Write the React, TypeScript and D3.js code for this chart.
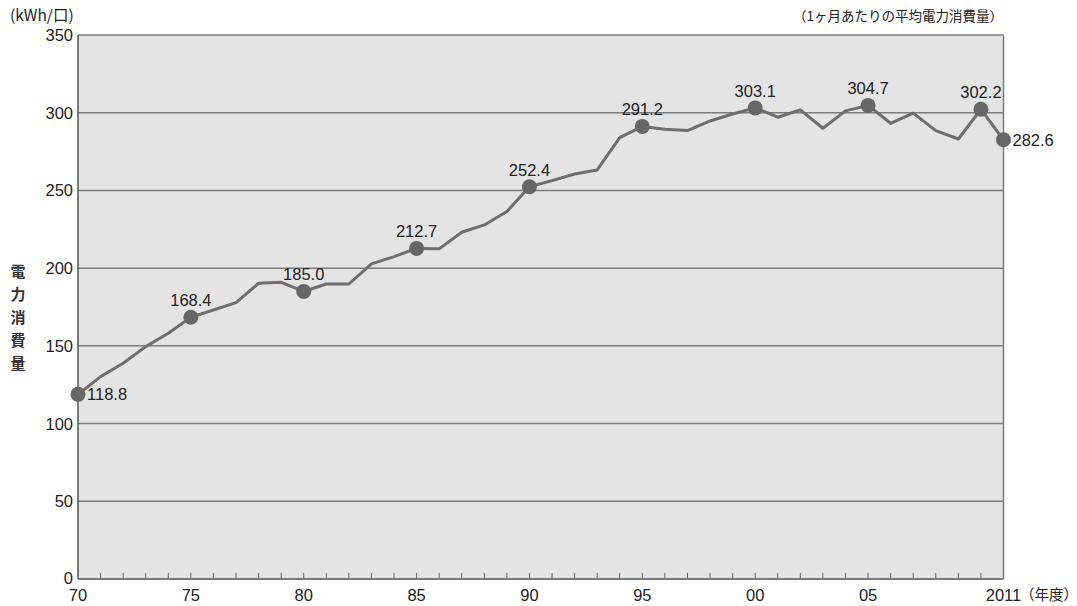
import React from "react";
import * as d3 from "d3";

// Household electricity use per contract per month, fiscal years 1970–2011
const years: number[] = d3.range(1970, 2012);
const consumption: number[] = [
  118.8, 130.2, 138.8, 149.5, 158.1, 168.4, 173.1, 177.8, 190.3, 190.9,
  185.0, 189.8, 189.8, 202.7, 207.4, 212.7, 212.4, 223.1, 227.8, 236.4,
  252.4, 256.3, 260.6, 263.2, 284.0, 291.2, 289.4, 288.5, 294.7, 299.2,
  303.1, 297.1, 301.8, 290.0, 301.2, 304.7, 293.2, 299.7, 288.5, 283.1,
  302.2, 282.6,
];
// Years whose value is marked with a dot and a label
const markedYears: number[] = [1970, 1975, 1980, 1985, 1990, 1995, 2000, 2005, 2010, 2011];
const yTicks: number[] = [0, 50, 100, 150, 200, 250, 300, 350];
const xLabelYears: number[] = [1970, 1975, 1980, 1985, 1990, 1995, 2000, 2005];
const xLabels: string[] = ["70", "75", "80", "85", "90", "95", "00", "05"];
const yTitle: string[] = ["電", "力", "消", "費", "量"];

const W = 1077;
const H = 606;
const left = 78;
const right = 1003.5;
const top = 35;
const bottom = 579;

export default function App() {
  const x = d3.scaleLinear().domain([1970, 2011]).range([left, right]);
  const y = d3.scaleLinear().domain([0, 350]).range([bottom, top]);
  const line = d3
    .line<number>()
    .x((_, i) => x(years[i]))
    .y((d) => y(d));

  const font = "'Liberation Sans', Arial, Helvetica, sans-serif";
  const cjk = "'Noto Sans CJK JP', sans-serif";

  return (
    <svg
      width={W}
      height={H}
      style={{ position: "absolute", left: 0, top: 0, background: "#fff" }}
    >
      <rect x={left} y={top} width={right - left} height={bottom - top} fill="#e4e4e4" />
      {yTicks.slice(1).map((t) => (
        <line key={t} x1={left} x2={right} y1={y(t)} y2={y(t)} stroke="#7c7c7c" strokeWidth={1.5} />
      ))}
      <line x1={right} x2={right} y1={top} y2={bottom} stroke="#7c7c7c" strokeWidth={1.5} />
      <line x1={left} x2={left} y1={top} y2={bottom} stroke="#555" strokeWidth={1.5} />
      <line x1={left} x2={right} y1={bottom} y2={bottom} stroke="#555" strokeWidth={1.5} />
      {years.slice(1, -1).map((yr) => (
        <line key={yr} x1={x(yr)} x2={x(yr)} y1={bottom} y2={bottom - 6} stroke="#666" strokeWidth={1} />
      ))}

      {yTicks.map((t) => (
        <text key={t} x={73} y={t === 0 ? y(t) - 1 : y(t)} dy="0.36em" textAnchor="end" fontFamily={font} fontSize={16.5} fill="#222">
          {t}
        </text>
      ))}
      {xLabelYears.map((yr, i) => (
        <text key={yr} x={x(yr)} y={601} textAnchor="middle" fontFamily={font} fontSize={16.5} fill="#222">
          {xLabels[i]}
        </text>
      ))}
      <text x={x(2011)} y={601} textAnchor="middle" fontFamily={font} fontSize={16.5} fill="#222">
        2011
      </text>
      <text x={1020} y={600} fontFamily={cjk} fontSize={14.5} fill="#222">
        （年度）
      </text>

      <text x={10} y={21} fontFamily={cjk} fontSize={15.5} fill="#222">
        (kWh/口)
      </text>
      <text x={1003} y={21} textAnchor="end" fontFamily={cjk} fontSize={13.5} fill="#222">
        （1ヶ月あたりの平均電力消費量）
      </text>
      {yTitle.map((c, i) => (
        <text key={c} x={18} y={277 + i * 23} textAnchor="middle" fontFamily={cjk} fontSize={15} fontWeight={700} fill="#333">
          {c}
        </text>
      ))}

      <path d={line(consumption) ?? ""} fill="none" stroke="#6e6e6e" strokeWidth={3} strokeLinejoin="round" />
      {markedYears.map((yr) => {
        const v = consumption[yr - 1970];
        const cx = x(yr);
        const cy = y(v);
        const side = yr === 1970 || yr === 2011;
        return (
          <g key={yr}>
            <circle cx={cx} cy={cy} r={7.5} fill="#666" />
            {side ? (
              <text x={cx + 9} y={cy} dy="0.36em" fontFamily={font} fontSize={16.5} fill="#222">
                {v.toFixed(1)}
              </text>
            ) : (
              <text x={cx} y={cy - 11} textAnchor="middle" fontFamily={font} fontSize={16.5} fill="#222">
                {v.toFixed(1)}
              </text>
            )}
          </g>
        );
      })}
    </svg>
  );
}
